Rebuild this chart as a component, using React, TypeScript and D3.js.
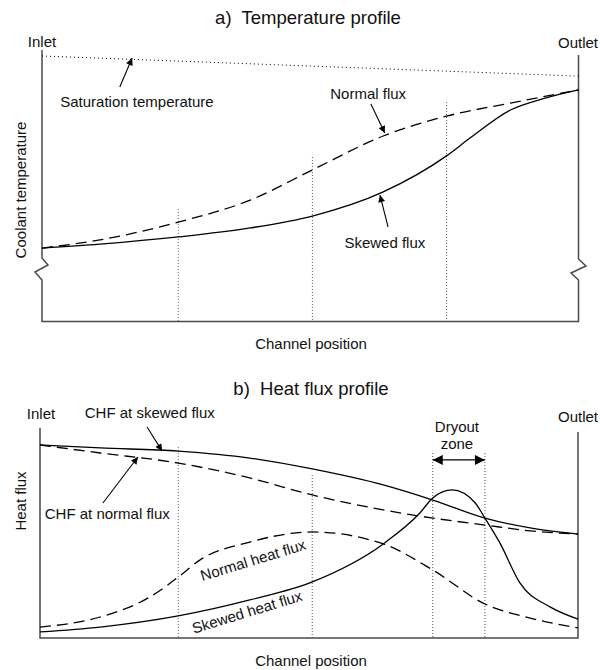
import React from 'react';
import * as d3 from 'd3';

// Channel position runs from 0 (inlet) to 100 (outlet); all values are relative units.

// a) Temperature profile
const normalPositions = [0, 10.8, 25.4, 38.8, 50.4, 63.6, 75.4, 87.3, 100];
const normalFluxTemp = [27.7, 30.8, 37.5, 45.8, 57.2, 70.0, 77.5, 82.4, 87.4];
const skewedPositions = [0, 10.8, 25.4, 38.8, 50.4, 63.6, 75.4, 79.9, 87.3, 93.8, 100];
const skewedFluxTemp = [27.7, 29.2, 31.9, 35.3, 39.8, 48.9, 62.5, 69.4, 79.8, 84.3, 87.4];
const saturationPositions = [0, 100];
const saturationTemp = [100.2, 92.6];
const tempGridPositions = [25.4, 50.4, 75.4];
const tempGridTops = [42.5, 62.1, 82.8];

// b) Heat flux profile
const chfPositions = [0, 11.2, 25.7, 39.0, 50.6, 63.8, 73.0, 82.7, 91.1, 100];
const chfSkewed = [91.9, 90.5, 89.0, 85.7, 80.5, 72.9, 65.7, 57.1, 52.4, 49.5];
const chfNormal = [91.9, 88.1, 83.3, 76.2, 68.1, 61.0, 57.1, 53.8, 51.0, 49.5];
const normalHeatPositions = [0, 11.2, 20.4, 25.7, 29.7, 39.0, 50.6, 63.8, 73.0, 82.7, 91.1, 100];
const normalHeatFlux = [5.2, 10.0, 19.5, 29.0, 37.1, 45.7, 50.5, 44.8, 32.4, 16.2, 9.5, 4.8];
const skewedHeatPositions = [0, 11.2, 25.7, 39.0, 50.6, 63.8, 70.6, 73.0, 76.6, 80.9, 82.7, 85.5, 89.2, 94.8, 100];
const skewedHeatFlux = [2.9, 5.2, 10.5, 18.1, 26.7, 44.8, 59.5, 66.7, 70.5, 64.3, 57.1, 45.2, 26.2, 14.8, 9.0];
const fluxGridPositions = [25.7, 50.6, 73.0, 82.7];
const fluxGridTops = [91.0, 77.6, 88.1, 88.1];
const dryoutZone = [73.0, 82.7];
const dryoutLevel = 84.8;

const FONT = '"Liberation Sans", Arial, Helvetica, sans-serif';

const zip = (xs: number[], ys: number[]) => xs.map((x, i) => [x, ys[i]] as [number, number]);

export default function App() {
  // Panel a scales
  const xA = d3.scaleLinear().domain([0, 100]).range([42, 578.5]);
  const yA = d3.scaleLinear().domain([0, 100]).range([321.5, 56.5]);
  // Panel b scales
  const xB = d3.scaleLinear().domain([0, 100]).range([40, 578]);
  const yB = d3.scaleLinear().domain([0, 100]).range([638, 428]);

  const lineA = d3.line<[number, number]>().x(d => xA(d[0])).y(d => yA(d[1])).curve(d3.curveMonotoneX);
  const lineB = d3.line<[number, number]>().x(d => xB(d[0])).y(d => yB(d[1])).curve(d3.curveMonotoneX);

  const axisColor = '#4a4a4a';
  const curve = { fill: 'none', stroke: '#000', strokeWidth: 1.3 };
  const dashed = { ...curve, strokeDasharray: '11,6' };
  const grid = { stroke: '#555', strokeWidth: 1, strokeDasharray: '1,2' };
  const label = { fontFamily: FONT, fontSize: 15, fill: '#111' };
  const title = { fontFamily: FONT, fontSize: 18.5, fill: '#111', textAnchor: 'middle' as const, style: { whiteSpace: 'pre' as const } };

  // Frame of panel a with axis-break zigzags on both sides
  const aFrame = `M42,50 L42,258 L48,265 L35,272 L42,280 L42,321.5 L578.5,321.5 L578.5,280 L571,273 L586,266 L578.5,259 L578.5,55`;
  const bFrame = `M40,428 L40,638 L578,638 L578,432`;

  const arrow = (x1: number, y1: number, x2: number, y2: number, key: string) => (
    <line key={key} x1={x1} y1={y1} x2={x2} y2={y2} stroke="#000" strokeWidth={1.1} markerEnd="url(#head)" />
  );

  return (
    <svg width={600} height={670} style={{ position: 'absolute', left: 0, top: 0, background: '#fff' }}>
      <defs>
        <marker id="head" viewBox="0 0 10 10" refX="10" refY="5" markerWidth="9" markerHeight="7"
          orient="auto" markerUnits="userSpaceOnUse">
          <path d="M0,0 L10,5 L0,10 z" fill="#000" />
        </marker>
        <marker id="bighead" viewBox="0 0 10 10" refX="10" refY="5" markerWidth="11" markerHeight="10"
          orient="auto-start-reverse" markerUnits="userSpaceOnUse">
          <path d="M0,0 L10,5 L0,10 z" fill="#000" />
        </marker>
      </defs>

      {/* a) Temperature profile */}
      <text x={308} y={24} {...title}>{'a)  Temperature profile'}</text>
      <text x={42} y={47} textAnchor="middle" {...label}>Inlet</text>
      <text x={578} y={48} textAnchor="middle" {...label}>Outlet</text>
      <path d={aFrame} fill="none" stroke={axisColor} strokeWidth={1.5} />
      {tempGridPositions.map((p, i) => (
        <line key={`ga${i}`} x1={xA(p)} x2={xA(p)} y1={yA(tempGridTops[i])} y2={yA(0)} {...grid} />
      ))}
      <path d={lineA(zip(saturationPositions, saturationTemp)) ?? ''} fill="none" stroke="#000" strokeWidth={1} strokeDasharray="1,3" />
      <path d={lineA(zip(normalPositions, normalFluxTemp)) ?? ''} {...dashed} />
      <path d={lineA(zip(skewedPositions, skewedFluxTemp)) ?? ''} {...curve} />

      <text x={xA(17.7)} y={yA(80.9)} textAnchor="middle" {...label}>Saturation temperature</text>
      {arrow(xA(14.5), yA(88.5), xA(16.8), yA(99.4), 'a1')}
      <text x={xA(60.8)} y={yA(84.0)} textAnchor="middle" {...label}>Normal flux</text>
      {arrow(xA(61.3), yA(82.1), xA(63.9), yA(71.1), 'a2')}
      <text x={xA(63.9)} y={yA(27.7)} textAnchor="middle" {...label}>Skewed flux</text>
      {arrow(xA(64.5), yA(35.7), xA(63.0), yA(47.7), 'a3')}

      <text x={21} y={190} transform="rotate(-90 21 190)" textAnchor="middle" dy="0.35em" {...label}>Coolant temperature</text>
      <text x={311} y={349} textAnchor="middle" {...label}>Channel position</text>

      {/* b) Heat flux profile */}
      <text x={311} y={395} {...title}>{'b)  Heat flux profile'}</text>
      <text x={41} y={419} textAnchor="middle" {...label}>Inlet</text>
      <text x={578} y={422} textAnchor="middle" {...label}>Outlet</text>
      <path d={bFrame} fill="none" stroke={axisColor} strokeWidth={1.5} />
      {fluxGridPositions.map((p, i) => (
        <line key={`gb${i}`} x1={xB(p)} x2={xB(p)} y1={yB(fluxGridTops[i])} y2={yB(0)} {...grid} />
      ))}
      <path d={lineB(zip(chfPositions, chfSkewed)) ?? ''} {...curve} />
      <path d={lineB(zip(chfPositions, chfNormal)) ?? ''} {...dashed} />
      <path d={lineB(zip(normalHeatPositions, normalHeatFlux)) ?? ''} {...dashed} />
      <path d={lineB(zip(skewedHeatPositions, skewedHeatFlux)) ?? ''} {...curve} />

      <text x={xB(20.4)} y={yB(104.8)} textAnchor="middle" {...label}>CHF at skewed flux</text>
      {arrow(xB(19.9), yB(100.5), xB(22.7), yB(89.0), 'b1')}
      <text x={xB(12.5)} y={yB(56.7)} textAnchor="middle" {...label}>CHF at normal flux</text>
      {arrow(xB(11.7), yB(64.3), xB(18.2), yB(86.2), 'b2')}

      <text x={xB(39.6)} y={yB(37.1)} dy="0.35em" textAnchor="middle"
        transform={`rotate(-17 ${xB(39.6)} ${yB(37.1)})`} {...label}>Normal heat flux</text>
      <text x={xB(38.5)} y={yB(12.4)} dy="0.35em" textAnchor="middle"
        transform={`rotate(-17 ${xB(38.5)} ${yB(12.4)})`} {...label}>Skewed heat flux</text>

      <text x={xB(77.5)} y={yB(98.1)} textAnchor="middle" {...label}>Dryout</text>
      <text x={xB(77.5)} y={yB(90.0)} textAnchor="middle" {...label}>zone</text>
      <line x1={xB(dryoutZone[0])} x2={xB(dryoutZone[1])} y1={yB(dryoutLevel)} y2={yB(dryoutLevel)}
        stroke="#000" strokeWidth={1.3} markerStart="url(#bighead)" markerEnd="url(#bighead)" />

      <text x={21} y={501} transform="rotate(-90 21 501)" textAnchor="middle" dy="0.35em" {...label}>Heat flux</text>
      <text x={311} y={666} textAnchor="middle" {...label}>Channel position</text>
    </svg>
  );
}
